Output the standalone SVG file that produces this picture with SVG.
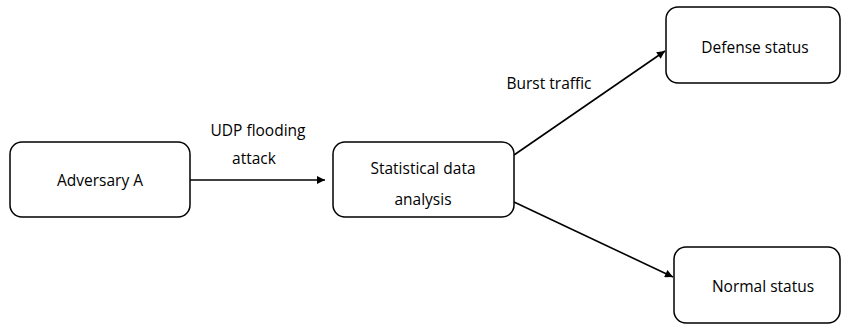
<svg xmlns="http://www.w3.org/2000/svg" width="841" height="324" viewBox="0 0 841 324">
  <style>
    .box { fill: #ffffff; stroke: #000000; stroke-width: 1.5; }
    .lbl { font-family: "Open Sans", "Liberation Sans", sans-serif; font-size: 15.5px; fill: #000000; text-anchor: middle; dominant-baseline: central; }
    .edge { stroke: #000000; stroke-width: 1.6; fill: none; marker-end: url(#arrow); }
  </style>
  <defs>
    <marker id="arrow" viewBox="0 0 10 10" refX="10" refY="5" markerWidth="9" markerHeight="8" markerUnits="userSpaceOnUse" orient="auto">
      <path d="M0,0 L10,5 L0,10 z" fill="#000000"/>
    </marker>
  </defs>
  <rect width="841" height="324" fill="#ffffff"/>

  <g id="connectors">
    <line class="edge" x1="190" y1="180" x2="325" y2="180"/>
    <line class="edge" x1="514" y1="155" x2="665" y2="51"/>
    <line class="edge" x1="514" y1="202" x2="673" y2="277"/>
    <text class="lbl" x="258" y="130">UDP flooding</text>
    <text class="lbl" x="254" y="158">attack</text>
    <text class="lbl" x="549" y="83">Burst traffic</text>
  </g>

  <g id="adversary">
    <rect class="box" x="10" y="142" width="180" height="75" rx="12"/>
    <text class="lbl" x="100" y="180">Adversary A</text>
  </g>

  <g id="analysis">
    <rect class="box" x="333" y="142" width="181" height="75" rx="12"/>
    <text class="lbl" x="423" y="168">Statistical data</text>
    <text class="lbl" x="423" y="199">analysis</text>
  </g>

  <g id="defense">
    <rect class="box" x="666" y="7" width="174" height="76" rx="12"/>
    <text class="lbl" x="755" y="47">Defense status</text>
  </g>

  <g id="normal">
    <rect class="box" x="674" y="247" width="166" height="76" rx="12"/>
    <text class="lbl" x="763" y="286">Normal status</text>
  </g>
</svg>
